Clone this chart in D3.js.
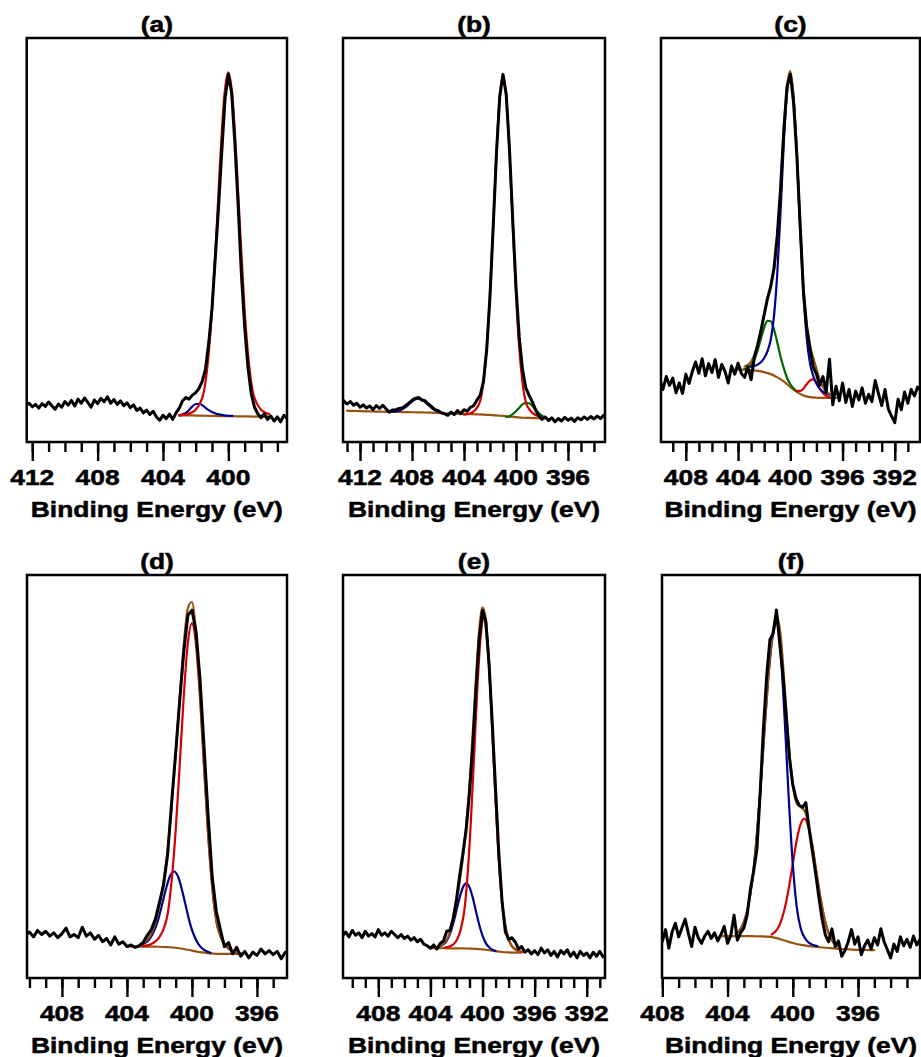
<!DOCTYPE html>
<html><head><meta charset="utf-8">
<script src="https://cdn.jsdelivr.net/npm/d3@7"></script>
<style>
html,body{margin:0;padding:0;background:#fff;}
svg text{font-family:"Liberation Sans",Arial,sans-serif;font-weight:bold;fill:#000;stroke:#000;stroke-width:0.5px;}
</style></head><body>
<svg id="chart" width="921" height="1057"></svg>
<script>
// ---------------- DATA ----------------
const panelTitles = ["(a)", "(b)", "(c)", "(d)", "(e)", "(f)"];
const axisTitle = "Binding Energy (eV)";
const xDomains = [[412.34, 396.41], [413.31, 393.15], [409.9, 390.07], [410.15, 394.15], [410.71, 390.6], [408.02, 392.2]];
const yDomain = [0, 100];
const majorEvery = 4;

// (a)
const aDataFrom = 412.4, aDataStep = 0.2;
const aData = [9.0, 9.6, 8.7, 9.3, 8.4, 9.5, 8.8, 9.9, 9.0, 8.1,
  9.4, 8.6, 10.0, 9.1, 10.3, 8.9, 10.6, 9.6, 10.9, 9.8,
  8.6, 10.4, 9.5, 10.8, 10.0, 11.2, 9.6, 10.5, 9.3, 10.2,
  9.0, 9.7, 8.5, 9.2, 7.8, 8.4, 7.2, 7.9, 6.8, 7.6,
  6.2, 5.4, 6.6, 5.8, 6.9, 5.6, 7.2, 8.4, 10.2, 11.0,
  10.6, 11.6, 12.2, 13.2, 15.0, 18.0, 24.5, 33.0, 45.5, 58.0,
  72.0, 85.0, 91.0, 86.5, 74.0, 58.5, 41.5, 28.5, 18.5, 12.0,
  8.6, 7.0, 6.0, 7.0, 5.6, 6.4, 5.2, 6.2, 5.0, 6.6, 5.8];
const aRedFrom = 403.0;
const aRed = [6.6, 6.7, 6.9, 7.3, 8.0, 9.5, 12.4, 19.9, 32.5, 50.2, 69.7, 85.5, 91.5, 85.5, 69.7, 50.2, 32.5, 19.9, 12.4, 9.5, 8.0, 7.3, 6.9];
const aBlueFrom = 403.0;
const aBlue = [6.6, 6.9, 7.5, 8.6, 9.4, 9.4, 8.8, 8.0, 7.4, 7.0, 6.8, 6.6, 6.5, 6.45];
const aBaseFrom = 403.0;
const aBase = [6.6, 6.6, 6.55, 6.5, 6.45, 6.4, 6.4, 6.35, 6.35, 6.3, 6.3, 6.3];

// (b)
const bDataFrom = 413.5, bDataStep = 0.25;
const bData = [9.2, 10.2, 9.4, 10.0, 9.1, 9.6, 8.6, 9.2, 8.4, 8.9,
  8.0, 9.0, 8.3, 9.1, 8.2, 7.4, 7.9, 8.0, 8.3, 8.4,
  9.0, 9.6, 10.3, 10.8, 11.0, 10.4, 10.2, 9.4, 8.8, 8.0,
  7.8, 7.2, 7.0, 6.6, 7.4, 6.8, 7.8, 7.0, 8.0, 7.6,
  8.6, 9.0, 10.4, 11.6, 15.0, 23.0, 36.0, 53.5, 71.5, 85.5,
  91.0, 86.0, 72.5, 55.0, 38.5, 26.0, 18.0, 13.5, 11.6, 10.0,
  8.0, 6.5, 5.6, 6.2, 5.3, 6.0, 5.0, 5.8, 5.2, 6.1,
  5.4, 5.9, 5.1, 6.0, 5.5, 6.2, 5.6, 6.3, 5.7, 6.4,
  5.8, 6.6, 6.0];
const bRedFrom = 404.0;
const bRed = [6.75, 6.87, 7.1, 7.6, 8.5, 10.2, 15.0, 23.5, 36.8, 53.9, 71.8, 85.5, 90.7, 85.4, 71.7, 53.8, 36.7, 23.3, 14.8, 9.9, 8.2, 7.2, 6.7, 6.4, 6.1];
const bGreenFrom = 400.75;
const bGreen = [6.2, 6.4, 6.9, 7.6, 8.5, 9.3, 9.7, 9.6, 9.0, 8.1, 7.2, 6.5, 6.1];
const bBlueFrom = 409.5;
const bBlue = [7.51, 7.59, 7.76, 8.1, 8.62, 9.29, 10.0, 10.55, 10.75, 10.51, 9.93, 9.18, 8.47, 7.91, 7.54, 7.31, 7.18];
const bBaseFrom = 413.0;
const bBase = [7.75, 7.7, 7.65, 7.6, 7.55, 7.5, 7.48, 7.45, 7.42, 7.4, 7.37, 7.35, 7.3, 7.25, 7.2, 7.12, 7.05, 7.0, 6.95, 6.9, 6.85, 6.8, 6.7, 6.6, 6.45, 6.3, 6.15, 6.0, 5.95, 5.9, 5.85];

// (c)
const cDataFrom = 410.0, cDataStep = 0.25;
const cData = [15.5, 13.0, 16.2, 14.0, 15.8, 12.2, 14.6, 12.0, 16.8, 14.5,
  17.5, 19.8, 17.0, 20.6, 16.4, 19.4, 17.2, 20.4, 16.0, 19.2,
  17.5, 14.6, 18.8, 16.8, 19.5, 17.0, 16.0, 18.6, 15.4, 21.0,
  24.0, 27.5, 31.5, 35.5, 38.5, 43.0, 51.0, 62.5, 77.0, 88.0,
  91.0, 84.0, 71.0, 54.0, 37.5, 28.5, 23.5, 18.5, 16.8, 14.0,
  16.2, 12.4, 20.5, 9.2, 13.8, 10.2, 14.6, 9.8, 13.0, 8.8,
  12.6, 10.4, 13.4, 9.6, 11.8, 10.0, 15.2, 12.0, 9.0, 13.0,
  8.2, 6.4, 4.8, 10.6, 8.0, 12.4, 9.6, 13.0, 11.4, 13.6, 12.8];
const cBlueFrom = 403.0;
const cBlue = [18.6, 18.8, 19.15, 19.75, 20.8, 22.45, 25.3, 31.1, 41.6, 56.6, 73.9, 86.4, 91.1, 85.1, 71.3, 53.05, 37.1, 26.0, 19.6, 16.4, 14.45, 13.2, 12.45, 12.0, 11.7];
const cGreenFrom = 403.5;
const cGreen = [18.1, 18.4, 19.1, 20.5, 22.7, 25.55, 28.3, 30.0, 29.9, 27.9, 24.7, 21.15, 18.3, 15.9, 14.3, 13.3, 12.5];
const cRedFrom = 399.5;
const cRed = [12.65, 12.65, 13.2, 14.3, 15.2, 15.5, 14.65, 13.2, 12.1, 11.4, 11.05];
const cBaseFrom = 404.0;
const cBase = [17.9, 17.9, 17.8, 17.6, 17.3, 16.8, 16.0, 15.0, 13.6, 12.4, 11.5, 11.1, 10.95, 10.9, 10.9, 10.9];
const cEnvFrom = 403.5;
const cEnv = [18.7, 19.1, 19.9, 21.6, 24.25, 27.85, 31.8, 35.4, 38.4, 42.6, 50.3, 62.25, 77.2, 88.0, 91.8, 85.5, 71.65, 53.75, 38.8, 29.0, 23.7, 20.9, 18.15, 15.5, 13.65, 12.5, 11.85];

// (d)
const dDataFrom = 410.25, dDataStep = 0.25;
const dData = [10.6, 11.4, 10.2, 11.8, 10.8, 11.6, 10.4, 11.2, 10.0, 11.0,
  12.4, 10.2, 10.8, 10.0, 12.6, 10.4, 11.2, 9.6, 10.6, 9.0,
  9.8, 8.2, 10.2, 8.4, 9.0, 7.8, 8.2, 7.6, 8.0, 8.8,
  10.6, 12.0, 14.6, 18.8, 23.0, 30.5, 43.5, 56.0, 69.0, 81.0,
  90.0, 91.3, 86.0, 74.0, 57.0, 40.0, 25.0, 16.5, 12.0, 7.8,
  8.8, 6.0, 7.6, 5.4, 6.6, 5.0, 6.4, 5.6, 7.2, 6.0,
  6.8, 5.8, 6.6, 4.8, 6.4, 5.6];
const dRedFrom = 403.0;
const dRed = [7.95, 8.1, 8.43, 9.07, 10.15, 12.1, 15.75, 24.1, 36.7, 53.05, 70.1, 83.2, 88.0, 82.8, 69.3, 51.95, 35.35, 22.57, 14.1, 10.4, 8.4, 7.28, 6.62, 6.26, 6.1];
const dBlueFrom = 403.1;
const dBlue = [8.27, 8.76, 9.73, 11.47, 14.15, 18.02, 22.07, 25.3, 26.43, 25.12, 21.66, 17.38, 13.25, 10.35, 8.41, 7.26, 6.65, 6.25];
const dBaseFrom = 404.0;
const dBase = [7.82, 7.81, 7.8, 7.78, 7.75, 7.65, 7.5, 7.2, 6.8, 6.4, 6.15, 6.0, 6.0, 5.97, 5.95];
const dEnvFrom = 403.0;
const dEnv = [8.6, 9.45, 11.0, 13.7, 17.95, 24.0, 31.55, 42.6, 55.4, 69.55, 82.9, 91.8, 93.3, 85.75, 70.85, 52.7, 35.7, 22.7, 14.15, 10.4, 8.4, 7.28, 6.62, 6.26, 6.1];

// (e)
const eDataFrom = 410.75, eDataStep = 0.25;
const eData = [10.4, 11.4, 10.2, 11.8, 10.6, 11.2, 10.0, 11.6, 10.4, 11.0,
  10.2, 12.0, 10.6, 11.2, 10.4, 11.6, 10.8, 10.0, 10.8, 9.8,
  10.4, 9.4, 10.0, 9.0, 9.6, 8.4, 8.0, 7.4, 8.2, 7.2,
  8.6, 9.2, 11.6, 11.8, 14.8, 19.5, 25.5, 31.0, 37.0, 46.0,
  57.5, 72.0, 84.5, 91.2, 88.5, 78.0, 63.0, 47.0, 31.0, 19.0,
  11.5, 9.6, 10.0, 9.0, 7.2, 7.8, 6.4, 7.0, 6.0, 6.8,
  5.8, 7.4, 6.2, 7.0, 5.6, 6.6, 5.2, 6.8, 6.0, 7.0,
  5.4, 6.4, 5.0, 6.6, 5.6, 6.2, 5.0, 6.4, 5.4, 6.6,
  5.2, 6.0];
const eRedFrom = 402.9;
const eRed = [7.54, 7.7, 8.01, 8.6, 9.89, 12.42, 16.7, 25.47, 38.62, 54.96, 71.77, 84.38, 89.18, 84.17, 71.35, 54.35, 37.85, 24.58, 15.74, 11.41, 8.85, 7.55, 6.95, 6.63, 6.46];
const eBlueFrom = 403.5;
const eBlue = [7.63, 7.88, 8.38, 9.22, 10.95, 13.52, 16.76, 20.06, 22.54, 23.48, 22.49, 19.92, 16.51, 13.17, 10.49, 8.65, 7.65, 7.05, 6.7];
const eBaseFrom = 404.0;
const eBase = [7.4, 7.39, 7.38, 7.37, 7.36, 7.35, 7.3, 7.25, 7.1, 6.9, 6.65, 6.45, 6.35, 6.3, 6.3];
const eEnvFrom = 403.5;
const eEnv = [7.68, 7.96, 8.5, 9.47, 11.45, 14.52, 18.76, 24.06, 30.14, 37.98, 48.09, 60.92, 74.71, 86.37, 91.99, 89.15, 78.15, 61.85, 44.39, 29.52, 19.15, 13.02, 9.6, 7.9, 7.15, 6.75, 6.52];

// (f)
const fDataFrom = 408.2, fDataStep = 0.2;
const fData = [11.0, 9.0, 12.0, 7.4, 11.4, 13.6, 10.2, 12.4, 14.6, 11.0,
  7.8, 12.6, 10.0, 8.6, 10.4, 11.6, 9.8, 11.2, 9.2, 10.8,
  12.8, 8.6, 10.6, 15.6, 9.4, 11.2, 12.4, 15.6, 22.0, 26.5,
  32.0, 46.0, 62.0, 75.0, 84.0, 85.5, 91.3, 83.0, 75.0, 65.0,
  54.5, 48.0, 44.5, 42.8, 42.4, 43.5, 37.0, 31.5, 26.0, 20.0,
  14.6, 10.6, 9.0, 12.2, 7.8, 9.2, 5.4, 6.8, 9.0, 12.0,
  8.4, 10.2, 5.8, 8.0, 9.4, 7.2, 10.0, 8.2, 12.2, 9.0,
  7.0, 5.0, 8.4, 6.6, 10.2, 8.0, 9.6, 7.6, 10.4, 8.2,
  9.6, 8.4];
const fBlueFrom = 403.5;
const fBlue = [11.0, 11.9, 13.8, 17.48, 23.77, 33.36, 46.05, 60.6, 74.45, 84.4, 87.9, 81.1, 64.4, 44.7, 28.2, 17.35, 12.1, 9.85, 8.7, 8.2, 7.9];
const fRedFrom = 401.3;
const fRed = [10.81, 11.59, 13.26, 16.36, 21.06, 27.06, 33.3, 37.85, 39.58, 37.53, 32.62, 26.02, 19.62, 14.52, 11.05, 9.01, 7.96];
const fBaseFrom = 404.5;
const fBase = [10.4, 10.4, 10.4, 10.4, 10.37, 10.35, 10.25, 9.9, 9.3, 8.7, 8.2, 7.9, 7.7, 7.5, 7.35, 7.2, 7.1, 7.0, 6.95, 6.9];
const fEnvFrom = 403.5;
const fEnv = [11.0, 11.9, 13.8, 17.48, 23.77, 33.36, 46.05, 60.65, 74.75, 85.2, 89.84, 85.25, 72.25, 57.9, 47.8, 43.25, 42.4, 41.25, 37.6, 31.7, 24.9, 18.8, 13.8, 10.55, 8.76, 7.85];

// ---------------- STYLE / LAYOUT ----------------
const BLACK = "#000000", RED = "#d40000", NAVY = "#00008f", GREEN = "#006600", BROWN = "#98520f";
const FIT_STEP = 0.25, BASE_STEP = 0.5;
const boxes = [
  {x0: 26.7, x1: 287, y0: 38, y1: 442},
  {x0: 343, x1: 605, y0: 38, y1: 442},
  {x0: 661, x1: 920, y0: 38, y1: 442},
  {x0: 27, x1: 287, y0: 575, y1: 978},
  {x0: 343, x1: 605, y0: 575, y1: 978},
  {x0: 662, x1: 920, y0: 575, y1: 978}
];

function s(values, from, step, color, width, smooth) {
  return {values, from, step, color, width, smooth};
}
const CW = 2.2, DW = 3;
const panelSeries = [
  [s(aBase, aBaseFrom, BASE_STEP, BROWN, CW, true), s(aBlue, aBlueFrom, FIT_STEP, NAVY, CW, true), s(aRed, aRedFrom, FIT_STEP, RED, CW, true), s(aData, aDataFrom, aDataStep, BLACK, DW, false)],
  [s(bBase, bBaseFrom, BASE_STEP, BROWN, CW, true), s(bBlue, bBlueFrom, FIT_STEP, NAVY, CW, true), s(bGreen, bGreenFrom, FIT_STEP, GREEN, CW, true), s(bRed, bRedFrom, FIT_STEP, RED, CW, true), s(bData, bDataFrom, bDataStep, BLACK, DW, false)],
  [s(cBase, cBaseFrom, BASE_STEP, BROWN, CW, true), s(cGreen, cGreenFrom, FIT_STEP, GREEN, CW, true), s(cRed, cRedFrom, FIT_STEP, RED, CW, true), s(cBlue, cBlueFrom, FIT_STEP, NAVY, CW, true), s(cEnv, cEnvFrom, FIT_STEP, BROWN, CW, true), s(cData, cDataFrom, cDataStep, BLACK, DW, false)],
  [s(dBase, dBaseFrom, BASE_STEP, BROWN, CW, true), s(dBlue, dBlueFrom, FIT_STEP, NAVY, CW, true), s(dRed, dRedFrom, FIT_STEP, RED, CW, true), s(dEnv, dEnvFrom, FIT_STEP, BROWN, CW, true), s(dData, dDataFrom, dDataStep, BLACK, DW, false)],
  [s(eBase, eBaseFrom, BASE_STEP, BROWN, CW, true), s(eBlue, eBlueFrom, FIT_STEP, NAVY, CW, true), s(eRed, eRedFrom, FIT_STEP, RED, CW, true), s(eEnv, eEnvFrom, FIT_STEP, BROWN, CW, true), s(eData, eDataFrom, eDataStep, BLACK, DW, false)],
  [s(fBase, fBaseFrom, BASE_STEP, BROWN, CW, true), s(fRed, fRedFrom, FIT_STEP, RED, CW, true), s(fBlue, fBlueFrom, FIT_STEP, NAVY, CW, true), s(fEnv, fEnvFrom, FIT_STEP, BROWN, CW, true), s(fData, fDataFrom, fDataStep, BLACK, DW, false)]
];

// ---------------- DRAW ----------------
const svg = d3.select("#chart");
const FS = 22, SX = 1.2;

boxes.forEach((b, i) => {
  const dom = xDomains[i];
  const x = d3.scaleLinear().domain(dom).range([b.x0, b.x1]);
  const y = d3.scaleLinear().domain(yDomain).range([b.y1, b.y0]);
  const g = svg.append("g");

  const clipId = "clip" + i;
  svg.append("clipPath").attr("id", clipId).append("rect")
    .attr("x", b.x0 + 1).attr("y", b.y0 + 1).attr("width", b.x1 - b.x0 - 2).attr("height", b.y1 - b.y0 - 2);
  const plot = g.append("g").attr("clip-path", `url(#${clipId})`);

  panelSeries[i].forEach(ser => {
    const pts = ser.values.map((v, k) => ({e: +(ser.from - k * ser.step).toFixed(3), v}));
    const line = d3.line().x(d => x(d.e)).y(d => y(d.v))
      .curve(ser.smooth ? d3.curveMonotoneX : d3.curveLinear);
    plot.append("path").datum(pts).attr("d", line)
      .attr("fill", "none").attr("stroke", ser.color).attr("stroke-width", ser.width)
      .attr("stroke-linejoin", "round").attr("stroke-linecap", "round");
  });

  // frame
  g.append("rect").attr("x", b.x0).attr("y", b.y0).attr("width", b.x1 - b.x0).attr("height", b.y1 - b.y0)
    .attr("fill", "none").attr("stroke", "#000").attr("stroke-width", 2.5);

  const lo = Math.min(dom[0], dom[1]), hi = Math.max(dom[0], dom[1]);
  const minorVals = d3.range(Math.ceil(lo), Math.floor(hi) + 1);
  const majorVals = minorVals.filter(v => v % majorEvery === 0);

  const minorAxis = d3.axisBottom(x).tickValues(minorVals).tickSize(9).tickFormat("");
  const majorAxis = d3.axisBottom(x).tickValues(majorVals).tickSize(18).tickFormat("");
  [minorAxis, majorAxis].forEach(ax => {
    const ag = g.append("g").attr("transform", `translate(0,${b.y1 + 1})`).call(ax);
    ag.select(".domain").remove();
    ag.selectAll(".tick line").attr("stroke", "#000").attr("stroke-width", 2.4);
  });

  // tick labels
  g.selectAll(".lbl").data(majorVals).enter().append("text")
    .attr("transform", v => `translate(${x(v)},${b.y1 + 43}) scale(${SX},1)`)
    .attr("text-anchor", "middle").attr("font-size", FS)
    .text(v => d3.format("d")(v));

  const cx = (b.x0 + b.x1) / 2;
  g.append("text").attr("transform", `translate(${cx},${b.y1 + 75}) scale(${SX},1)`)
    .attr("text-anchor", "middle").attr("font-size", FS).text(axisTitle);

  g.append("text").attr("transform", `translate(${cx},${b.y0 - 6}) scale(${SX},1)`)
    .attr("text-anchor", "middle").attr("font-size", FS).text(panelTitles[i]);
});
</script></body></html>
